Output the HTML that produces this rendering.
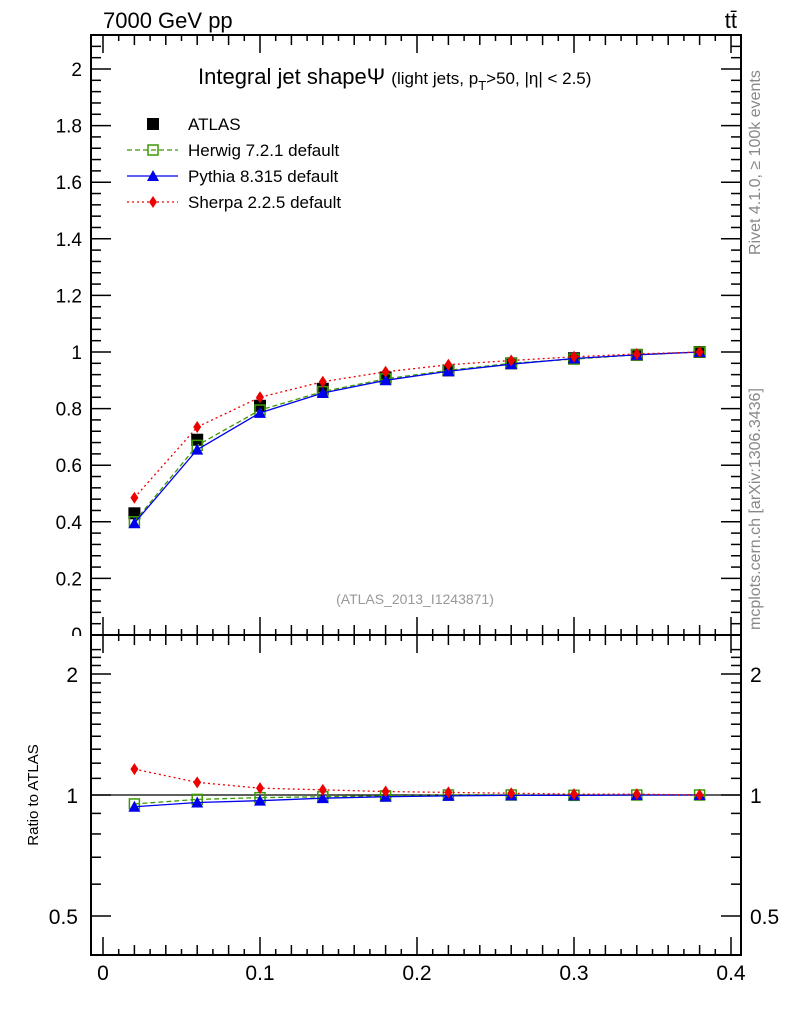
<!DOCTYPE html>
<html><head><meta charset="utf-8"><style>
body{margin:0;background:#fff;}
svg text{font-family:"Liberation Sans",sans-serif;}
</style></head><body>
<svg id="c" width="786" height="1024" xmlns="http://www.w3.org/2000/svg"></svg>
<script>
const xs=[0.02,0.06,0.10,0.14,0.18,0.22,0.26,0.30,0.34,0.38];
const atlas=[0.43,0.69,0.81,0.87,0.91,0.935,0.96,0.978,0.99,1.0];
const herwig=[0.40,0.67,0.795,0.86,0.905,0.935,0.96,0.975,0.99,1.0];
const pythia=[0.395,0.655,0.785,0.855,0.90,0.932,0.957,0.977,0.99,1.0];
const sherpa=[0.485,0.735,0.84,0.895,0.93,0.955,0.97,0.983,0.993,1.0];
const rHerwig=[0.95,0.975,0.985,0.99,0.995,1.0,1.0,0.998,1.0,1.0];
const rPythia=[0.935,0.958,0.968,0.982,0.99,0.995,0.998,0.998,1.0,1.0];
const rSherpa=[1.16,1.075,1.04,1.03,1.02,1.015,1.01,1.005,1.005,1.0];
const xTicks=[0,0.1,0.2,0.3,0.4];
const yTicks=[0.2,0.4,0.6,0.8,1,1.2,1.4,1.6,1.8,2];
const rTicks=[0.5,1,2];

const S=document.getElementById('c');const NS='http://www.w3.org/2000/svg';
function el(t,a,p){const e=document.createElementNS(NS,t);for(const k in a)e.setAttribute(k,a[k]);(p||S).appendChild(e);return e;}
const L=91,R=741,T=35,MB=635,RB=955;
const X=v=>103+v*1570;
const Y=v=>635-v*283;
const RY=v=>795-Math.log2(v)*121;

let f=el('rect',{x:L,y:T,width:R-L,height:MB-T,fill:'none',stroke:'#000','stroke-width':2});

f=el('rect',{x:L,y:MB,width:R-L,height:RB-MB,fill:'none',stroke:'#000','stroke-width':2});


for(let i=0;i<=40;i++){const v=i/100,x=X(v);if(x>R)break;
 const len=i%10==0?18:(i%2==0?10:6);
 for(const b of [MB,RB]){el('line',{x1:x,x2:x,y1:b,y2:b-len,stroke:'#000','stroke-width':1.5});}
 el('line',{x1:x,x2:x,y1:T,y2:T+len,stroke:'#000','stroke-width':1.5});
 el('line',{x1:x,x2:x,y1:MB,y2:MB+len,stroke:'#000','stroke-width':1.5});
}
xTicks.forEach(v=>{const t=el('text',{x:X(v),y:980,'font-size':21,'text-anchor':'middle'});t.textContent=v;
 });
for(let i=1;i<=53;i++){const v=i*0.04,y=Y(v);if(y<T)break;const maj=Math.abs(v/0.2-Math.round(v/0.2))<1e-6;
 const len=maj?20:10;el('line',{x1:L,x2:L+len,y1:y,y2:y,stroke:'#000','stroke-width':1.5});el('line',{x1:R,x2:R-len,y1:y,y2:y,stroke:'#000','stroke-width':1.5});}
yTicks.forEach(v=>{const t=el('text',{x:82,y:Y(v)+7,'font-size':19,'text-anchor':'end'});t.textContent=v;
 });
let t0=el('text',{x:82,y:641,'font-size':19,'text-anchor':'end'});t0.textContent='0';

el('rect',{x:60,y:636,width:30,height:12,fill:'#fff'});
[0.5,0.6,0.7,0.8,0.9,1,1.1,1.2,1.3,1.4,1.5,1.6,1.7,1.8,1.9,2,2.1,2.2,2.3].forEach(v=>{const y=RY(v);if(y>RB||y<MB)return;
 const maj=rTicks.includes(v);const len=maj?20:10;
 el('line',{x1:L,x2:L+len,y1:y,y2:y,stroke:'#000','stroke-width':1.5});el('line',{x1:R,x2:R-len,y1:y,y2:y,stroke:'#000','stroke-width':1.5});});
rTicks.forEach(v=>{for(const [x,a] of [[78,'end'],[750,'start']]){const t=el('text',{x:x,y:RY(v)+8,'font-size':21,'text-anchor':a});t.textContent=v;
 }});
el('line',{x1:L,x2:R,y1:RY(1),y2:RY(1),stroke:'#000','stroke-width':1.2});

function txt(s,a,name){const t=el('text',a);t.textContent=s;return t;}
txt('7000 GeV pp',{x:103,y:28,'font-size':22},'energy-label');
txt('tt̄',{x:737,y:28,'font-size':22,'text-anchor':'end'},'process-label');
let ti=txt('',{x:198,y:84,'font-size':22},'plot-title');
ti.innerHTML='Integral jet shape&#936; <tspan font-size="17">(light jets, p</tspan><tspan font-size="13" dy="6">T</tspan><tspan font-size="17" dy="-6">&gt;50, |η| &lt; 2.5)</tspan>';
txt('(ATLAS_2013_I1243871)',{x:415,y:604,'font-size':14,fill:'#999','text-anchor':'middle'},'analysis-id');
txt('Rivet 4.1.0, ≥ 100k events',{x:0,y:0,'font-size':16,fill:'#888',transform:'translate(760,255) rotate(-90)'},'rivet-label');
txt('mcplots.cern.ch [arXiv:1306.3436]',{x:0,y:0,'font-size':16,fill:'#888',transform:'translate(760,630) rotate(-90)'},'mcplots-label');
txt('Ratio to ATLAS',{x:0,y:0,'font-size':15,'text-anchor':'middle',transform:'translate(38,795) rotate(-90)'},'ratio-y-title');

function mk(type,x,y,col){
 if(type=='sq')return el('rect',{x:x-6,y:y-6,width:12,height:12,fill:'#000'});
 if(type=='osq')return el('rect',{x:x-5,y:y-5,width:10,height:10,fill:'none',stroke:col,'stroke-width':1.5});
 if(type=='tri')return el('polygon',{points:`${x},${y-6} ${x-6},${y+5} ${x+6},${y+5}`,fill:col});
 if(type=='dia')return el('polygon',{points:`${x},${y-6} ${x-4},${y} ${x},${y+6} ${x+4},${y}`,fill:col});
}
function series(vals,yf,col,dash,type,name){
 const p=el('polyline',{points:vals.map((v,i)=>X(xs[i])+','+yf(v)).join(' '),fill:'none',stroke:col,'stroke-width':1.3,'stroke-dasharray':dash});
 
 vals.forEach((v,i)=>{const m=mk(type,X(xs[i]),yf(v),col);});
}
atlas.forEach((v,i)=>{const m=mk('sq',X(xs[i]),Y(v));});
series(herwig,Y,'#3a9a00','5,3','osq','herwig');
series(pythia,Y,'#0000ee','none','tri','pythia');
series(sherpa,Y,'#ee0000','2,3','dia','sherpa');
series(rHerwig,RY,'#3a9a00','5,3','osq','herwig-ratio');
series(rPythia,RY,'#0000ee','none','tri','pythia-ratio');
series(rSherpa,RY,'#ee0000','2,3','dia','sherpa-ratio');

const leg=[['ATLAS','sq','#000','none'],['Herwig 7.2.1 default','osq','#3a9a00','5,3'],['Pythia 8.315 default','tri','#0000ee','none'],['Sherpa 2.2.5 default','dia','#ee0000','2,3']];
leg.forEach((l,i)=>{const y=124+i*26;
 if(l[1]!='sq'){el('line',{x1:127,x2:178,y1:y,y2:y,stroke:l[2],'stroke-width':1.3,'stroke-dasharray':l[3]});}
 const m=mk(l[1],153,y,l[2]);
 txt(l[0],{x:188,y:y+6,'font-size':17},'legend-entry');});
</script>
</body></html>
